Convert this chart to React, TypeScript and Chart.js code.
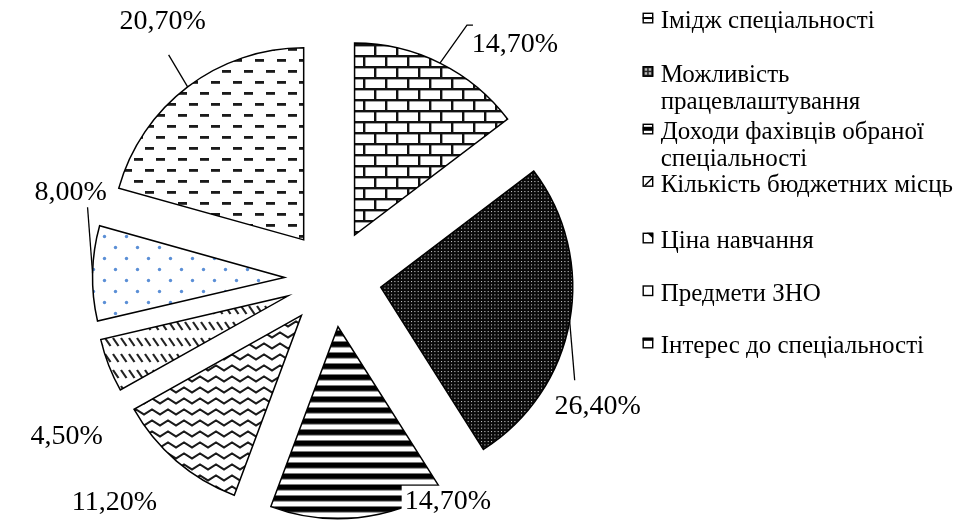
import React, { useEffect, useRef } from "react";
import { Chart, registerables } from "chart.js";

Chart.register(...registerables);

// ---------- data ----------
const categories = [
  "Імідж спеціальності",
  "Можливість працевлаштування",
  "Доходи фахівців обраної спеціальності",
  "Кількість бюджетних місць",
  "Ціна навчання",
  "Предмети ЗНО",
  "Інтерес до спеціальності",
];
const shares = [14.7, 26.4, 14.7, 11.2, 4.5, 8.0, 20.7];

// ---------- layout / style ----------
const W = 956;
const H = 522;
const PIE_RADIUS = 192;
const EXPLODE = 48.5;
const LABEL_SIZE = 28;
const LEGEND_SIZE = 25;
const FAMILY = `"Liberation Serif", "Times New Roman", serif`;
// label centre offsets from the outer mid-point of each slice
const labelNudges: [number, number][] = [
  [75, -21],
  [28, 83],
  [90, -18],
  [-62, 39],
  [-42, 69],
  [-22, -83],
  [-25, -67],
];
// leader line end relative to label centre (null = no leader), optional horizontal tail
const leaderEnds: (number[] | null)[] = [
  [-48, -17, 6],
  [-23, -24],
  null,
  null,
  null,
  [17, 17],
  [6, 35],
];
const legendX = 660.7;
const legendBaselines = [28.3, 81.7, 139.3, 191.7, 248.3, 301, 353.3];
const legendLineHeight = 27;
const legendWrap = 300;

function fmt(v: number) {
  return v.toFixed(2).replace(".", ",") + "%";
}

function tile(w: number, h: number, draw: (g: CanvasRenderingContext2D) => void) {
  const c = document.createElement("canvas");
  c.width = w;
  c.height = h;
  const g = c.getContext("2d")!;
  g.fillStyle = "#ffffff";
  g.fillRect(0, 0, w, h);
  draw(g);
  return c;
}

function makePatterns(ctx: CanvasRenderingContext2D) {
  const tiles = [
    // bricks
    tile(22, 22, (g) => {
      g.fillStyle = "#111";
      g.fillRect(0, 0, 22, 2.4);
      g.fillRect(0, 11, 22, 2.4);
      g.fillRect(0, 0, 2.4, 11);
      g.fillRect(11, 11, 2.4, 11);
    }),
    // dark with light dots
    tile(10, 10, (g) => {
      g.fillStyle = "#0a0a0a";
      g.fillRect(0, 0, 10, 10);
      g.fillStyle = "#c0c0c0";
      for (let i = 0; i < 3; i++)
        for (let j = 0; j < 3; j++) g.fillRect(i * (10 / 3) + 1, j * (10 / 3) + 1, 1.1, 1.1);
    }),
    // horizontal stripes
    tile(4, 11, (g) => {
      g.fillStyle = "#000";
      g.fillRect(0, 0.5, 4, 5.4);
      g.fillStyle = "#777";
      g.fillRect(0, 5.9, 4, 0.8);
      g.fillRect(0, 0, 4, 0.5);
    }),
    // zigzag
    tile(16, 11, (g) => {
      g.strokeStyle = "#1a1a1a";
      g.lineWidth = 2;
      g.beginPath();
      g.moveTo(-8, 2.5);
      g.lineTo(0, 7.5);
      g.lineTo(8, 2.5);
      g.lineTo(16, 7.5);
      g.lineTo(24, 2.5);
      g.stroke();
    }),
    // dashed downward diagonal
    tile(8, 16, (g) => {
      g.strokeStyle = "#222";
      g.lineWidth = 2.2;
      g.beginPath();
      g.moveTo(1, 2);
      g.lineTo(6.5, 10);
      g.stroke();
    }),
    // blue dots
    tile(22, 22, (g) => {
      g.fillStyle = "#5b8fd6";
      g.beginPath();
      g.arc(5.5, 5.5, 1.7, 0, Math.PI * 2);
      g.fill();
      g.beginPath();
      g.arc(16.5, 16.5, 1.7, 0, Math.PI * 2);
      g.fill();
    }),
    // dashes
    tile(22, 22, (g) => {
      g.fillStyle = "#1a1a1a";
      g.fillRect(2, 4, 9, 2.8);
      g.fillRect(13, 15, 9, 2.8);
    }),
  ];
  return tiles.map((t) => ctx.createPattern(t, "repeat") as CanvasPattern);
}

function drawSwatch(ctx: CanvasRenderingContext2D, i: number, x: number, y: number) {
  const s = 10.5;
  ctx.save();
  ctx.fillStyle = "#fff";
  ctx.fillRect(x, y, s, s);
  ctx.fillStyle = "#000";
  if (i === 0) ctx.fillRect(x, y + s / 2 - 1, s, 2);
  if (i === 1) {
    ctx.fillStyle = "#222";
    ctx.fillRect(x, y, s, s);
    ctx.fillStyle = "#bbb";
    ctx.fillRect(x + 2, y + 2, 2.5, 2.5);
    ctx.fillRect(x + 6, y + 2, 2.5, 2.5);
    ctx.fillRect(x + 2, y + 6, 2.5, 2.5);
    ctx.fillRect(x + 6, y + 6, 2.5, 2.5);
  }
  if (i === 2) ctx.fillRect(x, y + 3, s, 4);
  if (i === 3) {
    ctx.beginPath();
    ctx.moveTo(x + 1, y + s - 1);
    ctx.lineTo(x + s - 1, y + 1);
    ctx.lineTo(x + s - 1, y + 3);
    ctx.lineTo(x + 3, y + s - 1);
    ctx.closePath();
    ctx.fill();
  }
  if (i === 4) {
    ctx.beginPath();
    ctx.moveTo(x + 4, y);
    ctx.lineTo(x + s, y);
    ctx.lineTo(x + s, y + 6);
    ctx.closePath();
    ctx.fill();
  }
  if (i === 6) ctx.fillRect(x, y, s, 3);
  ctx.strokeStyle = "#000";
  ctx.lineWidth = 1.4;
  ctx.strokeRect(x + 0.5, y + 0.5, s - 1, s - 1);
  ctx.restore();
}

function wrapText(ctx: CanvasRenderingContext2D, text: string, maxW: number) {
  const words = text.split(" ");
  const lines: string[] = [];
  let cur = "";
  for (const w of words) {
    const t = cur ? cur + " " + w : w;
    if (ctx.measureText(t).width > maxW && cur) {
      lines.push(cur);
      cur = w;
    } else cur = t;
  }
  if (cur) lines.push(cur);
  return lines;
}

const explodePlugin = {
  id: "explodeSlices",
  afterDatasetUpdate(chart: any) {
    const meta = chart.getDatasetMeta(0);
    meta.data.forEach((arc: any) => {
      const mid = (arc.startAngle + arc.endAngle) / 2;
      arc.x += Math.cos(mid) * EXPLODE;
      arc.y += Math.sin(mid) * EXPLODE;
    });
  },
};

const labelsPlugin = {
  id: "sliceLabels",
  afterDatasetsDraw(chart: any) {
    const ctx: CanvasRenderingContext2D = chart.ctx;
    const meta = chart.getDatasetMeta(0);
    ctx.save();
    ctx.font = `${LABEL_SIZE}px ${FAMILY}`;
    const items = meta.data.map((arc: any, i: number) => {
      const mid = (arc.startAngle + arc.endAngle) / 2;
      const r = arc.outerRadius;
      const ox = arc.x + Math.cos(mid) * r;
      const oy = arc.y + Math.sin(mid) * r;
      const text = fmt(chart.data.datasets[0].data[i]);
      return { ox, oy, lx: ox + labelNudges[i][0], ly: oy + labelNudges[i][1], text, w: ctx.measureText(text).width, i };
    });
    ctx.fillStyle = "#fff";
    items.forEach((it: any) => {
      ctx.fillRect(it.lx - it.w / 2 - 3, it.ly - 14, it.w + 6, 28);
    });
    ctx.strokeStyle = "#000";
    ctx.lineWidth = 1.3;
    items.forEach((it: any) => {
      const le = leaderEnds[it.i];
      if (!le) return;
      ctx.beginPath();
      ctx.moveTo(it.ox, it.oy);
      ctx.lineTo(it.lx + le[0], it.ly + le[1]);
      if (le[2]) ctx.lineTo(it.lx + le[0] + le[2], it.ly + le[1]);
      ctx.stroke();
    });
    ctx.fillStyle = "#000";
    ctx.textAlign = "center";
    ctx.textBaseline = "alphabetic";
    items.forEach((it: any) => {
      ctx.fillText(it.text, it.lx, it.ly + LABEL_SIZE * 0.34);
    });
    ctx.restore();
  },
};

const legendPlugin = {
  id: "customLegend",
  afterDraw(chart: any) {
    const ctx: CanvasRenderingContext2D = chart.ctx;
    ctx.save();
    ctx.font = `${LEGEND_SIZE}px ${FAMILY}`;
    ctx.textAlign = "left";
    ctx.textBaseline = "alphabetic";
    chart.data.labels.forEach((lab: string, i: number) => {
      const base = legendBaselines[i];
      drawSwatch(ctx, i, legendX - 18, base - 15.5);
      ctx.fillStyle = "#000";
      const lines = wrapText(ctx, lab, legendWrap);
      lines.forEach((ln, k) => ctx.fillText(ln, legendX, base + k * legendLineHeight));
    });
    ctx.restore();
  },
};

export default function App() {
  const ref = useRef<HTMLCanvasElement | null>(null);
  useEffect(() => {
    const canvas = ref.current!;
    const ctx = canvas.getContext("2d")!;
    const patterns = makePatterns(ctx);
    const chart = new Chart(canvas, {
      type: "pie",
      data: {
        labels: categories,
        datasets: [
          {
            data: shares,
            backgroundColor: patterns,
            borderColor: "#000",
            borderWidth: 1.5,
            borderJoinStyle: "miter",
            radius: PIE_RADIUS,
            offset: 0,
            hoverOffset: 0,
          } as any,
        ],
      },
      options: {
        responsive: false,
        animation: false,
        devicePixelRatio: 1,
        events: [],
        layout: { padding: { left: 0, right: W - 666, top: 35, bottom: 0 } },
        plugins: {
          legend: { display: false },
          tooltip: { enabled: false },
          title: { display: false },
        },
      },
      plugins: [explodePlugin, labelsPlugin, legendPlugin],
    });
    return () => chart.destroy();
  }, []);
  return (
    <div style={{ position: "absolute", left: 0, top: 0, width: W, height: H, background: "#fff" }}>
      <canvas ref={ref} width={W} height={H} style={{ display: "block" }} />
    </div>
  );
}
